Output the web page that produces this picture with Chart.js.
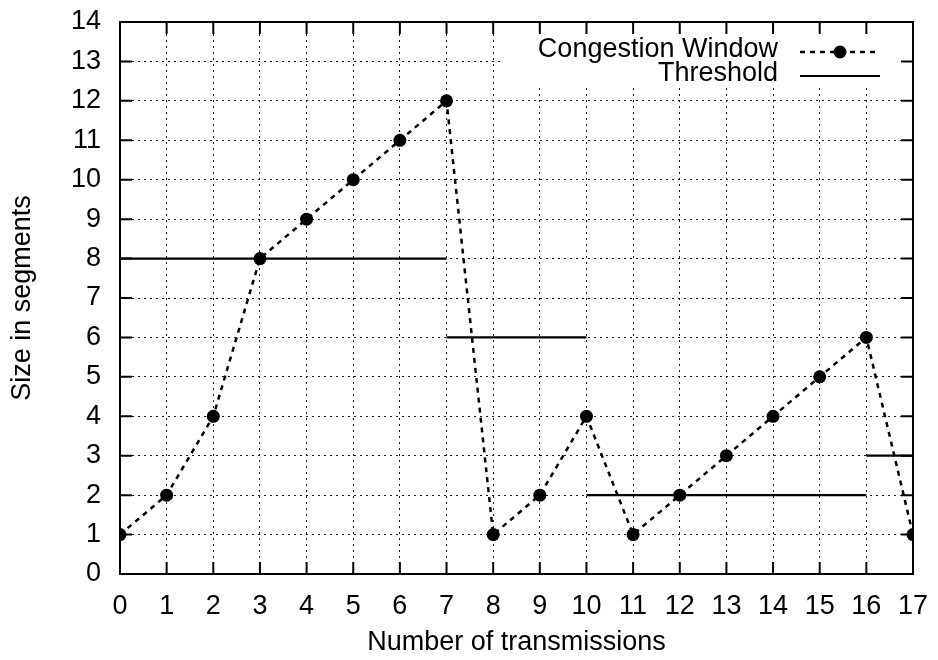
<!DOCTYPE html>
<html>
<head>
<meta charset="utf-8">
<script src="https://cdn.jsdelivr.net/npm/chart.js@4.4.0/dist/chart.umd.min.js"></script>
<style>
html,body{margin:0;padding:0;background:#fff;}
#wrap{width:938px;height:660px;}
</style>
</head>
<body>
<div id="wrap"><canvas id="c" width="938" height="660"></canvas></div>
<script>
const transmissions = [0,1,2,3,4,5,6,7,8,9,10,11,12,13,14,15,16,17];
const congestionWindow = [1,2,4,8,9,10,11,12,1,2,4,1,2,3,4,5,6,1];
// threshold segments: [startX, endX, value]
const thresholdStart = [0,7,10,16];
const thresholdEnd   = [7,10,16,17];
const thresholdValue = [8,6,2,3];
const xTicks = [0,17,1];
const yTicks = [0,14,1];
const seriesNames = ['Congestion Window','Threshold'];
const axisTitles = ['Number of transmissions','Size in segments'];

const FONT = '"Liberation Sans", Arial, Helvetica, sans-serif';
const FS = 27;

const cwData = transmissions.map((x,i)=>({x:x, y:congestionWindow[i]}));
const thData = [];
thresholdStart.forEach((s,i)=>{
  if(i>0) thData.push({x:s, y:null});
  thData.push({x:s, y:thresholdValue[i]});
  thData.push({x:thresholdEnd[i], y:thresholdValue[i]});
});

const framePlugin = {
  id:'frame',
  beforeDatasetsDraw(chart){
    const {ctx, chartArea:a} = chart;
    ctx.save();
    ctx.fillStyle='#fff';
    ctx.fillRect(500, a.top, a.right-500, 87-a.top);
    ctx.restore();
  },
  afterDatasetsDraw(chart){
    const {ctx, chartArea:a, scales} = chart;
    ctx.save();
    ctx.strokeStyle='#000';
    ctx.lineWidth=2;
    ctx.beginPath();
    const L=12;
    for(let v=xTicks[0]; v<=xTicks[1]; v+=xTicks[2]){
      const px=scales.x.getPixelForValue(v);
      ctx.moveTo(px,a.bottom); ctx.lineTo(px,a.bottom-L);
      ctx.moveTo(px,a.top); ctx.lineTo(px,a.top+L);
    }
    for(let v=yTicks[0]; v<=yTicks[1]; v+=yTicks[2]){
      const py=scales.y.getPixelForValue(v);
      ctx.moveTo(a.left,py); ctx.lineTo(a.left+L,py);
      ctx.moveTo(a.right,py); ctx.lineTo(a.right-L,py);
    }
    ctx.stroke();
    ctx.strokeRect(a.left,a.top,a.right-a.left,a.bottom-a.top);
    ctx.restore();
  },
  afterDraw(chart){
    const {ctx} = chart;
    const ds = chart.data.datasets;
    ctx.save();
    ctx.font = FS+'px '+FONT;
    ctx.fillStyle='#000';
    ctx.textAlign='right';
    ctx.textBaseline='middle';
    const textX=778, x0=800, x1=880;
    const rows=[50,74], samp=[52,76];
    ds.forEach((d,i)=>{
      ctx.fillStyle='#000';
      ctx.fillText(d.label, textX, rows[i]);
      ctx.beginPath();
      ctx.strokeStyle=d.borderColor;
      ctx.lineWidth=d.borderWidth;
      ctx.setLineDash(d.borderDash||[]);
      ctx.moveTo(x0,samp[i]); ctx.lineTo(x1,samp[i]);
      ctx.stroke();
      ctx.setLineDash([]);
      if(d.pointRadius>0){
        ctx.beginPath();
        ctx.fillStyle=d.pointBackgroundColor;
        ctx.arc((x0+x1)/2, samp[i], d.pointRadius, 0, Math.PI*2);
        ctx.fill();
      }
    });
    ctx.restore();
  }
};

new Chart(document.getElementById('c'), {
  type:'line',
  data:{
    datasets:[
      {label:seriesNames[0], data:cwData, borderColor:'#000', borderWidth:2.5, borderDash:[5,5],
       pointRadius:6.5, pointBackgroundColor:'#000', pointBorderColor:'#000', pointBorderWidth:0, tension:0, order:1},
      {label:seriesNames[1], data:thData, borderColor:'#000', borderWidth:2.2, pointRadius:0, spanGaps:false, tension:0, order:2}
    ]
  },
  options:{
    responsive:false,
    animation:false,
    events:[],
    layout:{padding:{left:0,right:25,top:22,bottom:0}},
    plugins:{legend:{display:false}, tooltip:{enabled:false}},
    scales:{
      x:{type:'linear', min:xTicks[0], max:xTicks[1],
         ticks:{stepSize:xTicks[2], color:'#000', font:{family:FONT,size:FS}, padding:16, maxRotation:0, autoSkip:false},
         grid:{color:'rgba(0,0,0,0.9)', lineWidth:1, drawTicks:false},
         border:{display:false, dash:[2,4]},
         title:{display:true, text:axisTitles[0], color:'#000', font:{family:FONT,size:FS}, padding:1},
         afterFit(s){ s.height=86; s.paddingLeft=0; s.paddingRight=0; }
      },
      y:{type:'linear', min:yTicks[0], max:yTicks[1],
         ticks:{stepSize:yTicks[2], color:'#000', font:{family:FONT,size:FS}, padding:19, autoSkip:false},
         grid:{color:'rgba(0,0,0,0.9)', lineWidth:1, drawTicks:false},
         border:{display:false, dash:[2,4]},
         title:{display:true, text:axisTitles[1], color:'#000', font:{family:FONT,size:FS}, padding:6},
         afterFit(s){ s.width=120; s.paddingTop=0; s.paddingBottom=0; }
      }
    }
  },
  plugins:[framePlugin]
});
</script>
</body>
</html>
